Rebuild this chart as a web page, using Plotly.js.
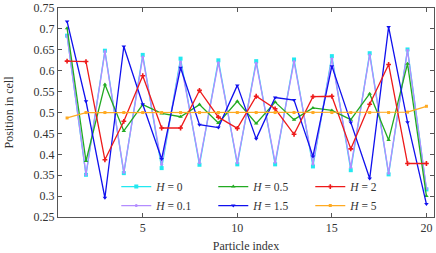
<!DOCTYPE html>
<html><head><meta charset="utf-8">
<script src="https://cdn.plot.ly/plotly-3.0.1.min.js"></script>
<style>html,body{margin:0;padding:0;background:#fff}#chart{width:436px;height:253px}</style>
</head><body><div id="chart"></div>
<script>
const particleIndex = [1,2,3,4,5,6,7,8,9,10,11,12,13,14,15,16,17,18,19,20];
const posH0   = [0.684,0.351,0.648,0.355,0.638,0.367,0.629,0.375,0.625,0.376,0.623,0.376,0.627,0.371,0.635,0.362,0.642,0.352,0.651,0.316];
const posH01  = [0.684,0.352,0.646,0.357,0.633,0.376,0.621,0.380,0.619,0.380,0.618,0.381,0.622,0.377,0.629,0.369,0.638,0.355,0.649,0.318];
const posH05  = [0.702,0.384,0.567,0.456,0.519,0.498,0.490,0.519,0.475,0.527,0.474,0.525,0.483,0.511,0.505,0.483,0.545,0.434,0.617,0.300];
const posH15  = [0.718,0.527,0.296,0.658,0.520,0.389,0.607,0.471,0.464,0.565,0.437,0.536,0.530,0.395,0.611,0.476,0.342,0.705,0.477,0.281];
const posH2   = [0.623,0.622,0.387,0.479,0.588,0.463,0.463,0.553,0.489,0.462,0.539,0.509,0.448,0.538,0.539,0.413,0.520,0.615,0.378,0.378];
const posH5   = [0.487,0.500,0.500,0.500,0.500,0.500,0.500,0.500,0.500,0.500,0.500,0.500,0.500,0.500,0.500,0.500,0.500,0.500,0.501,0.515];
const seriesLabels = ['<i>H</i> = 0','<i>H</i> = 0.1','<i>H</i> = 0.5','<i>H</i> = 1.5','<i>H</i> = 2','<i>H</i> = 5'];
const xTickVals = [5,10,15,20];
const yTickVals = [0.25,0.3,0.35,0.4,0.45,0.5,0.55,0.6,0.65,0.7,0.75];

function tr(y, name, color, symbol, msize, rank) {
  return {x: particleIndex, y: y, name: name, type: 'scatter', mode: 'lines+markers',
    line: {color: color, width: 1.3}, marker: {color: color, symbol: symbol, size: msize},
    legendrank: rank};
}
const data = [
  tr(posH0,  seriesLabels[0], '#22e8f0', 'square', 4, 1),
  tr(posH01, seriesLabels[1], '#b38cff', 'circle', 3, 4),
  tr(posH05, seriesLabels[2], '#22aa22', 'triangle-up', 4, 2),
  tr(posH15, seriesLabels[3], '#1010ee', 'triangle-down', 4, 5),
  tr(posH2,  seriesLabels[4], '#ee1a1a', 'cross', 4, 3),
  tr(posH5,  seriesLabels[5], '#ffaa22', 'square', 3, 6)
];
const axisFont = {family: 'Liberation Serif, serif', size: 12, color: '#333'};
const layout = {
  width: 436, height: 253,
  margin: {l: 58, r: 2, t: 8, b: 36},
  paper_bgcolor: '#fff', plot_bgcolor: '#fff',
  font: axisFont,
  showlegend: true,
  legend: {orientation: 'h', x: 0.155, y: 0.215, xanchor: 'left', yanchor: 'top',
    entrywidth: 52, bgcolor: 'rgba(0,0,0,0)', borderwidth: 0, tracegroupgap: 0,
    font: {family: 'Liberation Serif, serif', size: 11.5, color: '#333'}},
  xaxis: {range: [0.52, 20.4], tickvals: xTickVals, ticks: 'inside', ticklen: 4,
    tickcolor: '#555', showgrid: false, zeroline: false, showline: true, linecolor: '#555',
    linewidth: 1, mirror: 'ticks', tickfont: axisFont,
    title: {text: 'Particle index', font: axisFont, standoff: 8}},
  yaxis: {range: [0.25, 0.7502], tickvals: yTickVals, ticks: 'inside', ticklen: 4,
    tickcolor: '#555', showgrid: false, zeroline: false, showline: true, linecolor: '#555',
    linewidth: 1, mirror: 'ticks', tickfont: axisFont, ticklabeloverflow: 'allow',
    title: {text: 'Position in cell', font: axisFont, standoff: 17}}
};
Plotly.newPlot('chart', data, layout, {displayModeBar: false, staticPlot: true});
</script></body></html>
